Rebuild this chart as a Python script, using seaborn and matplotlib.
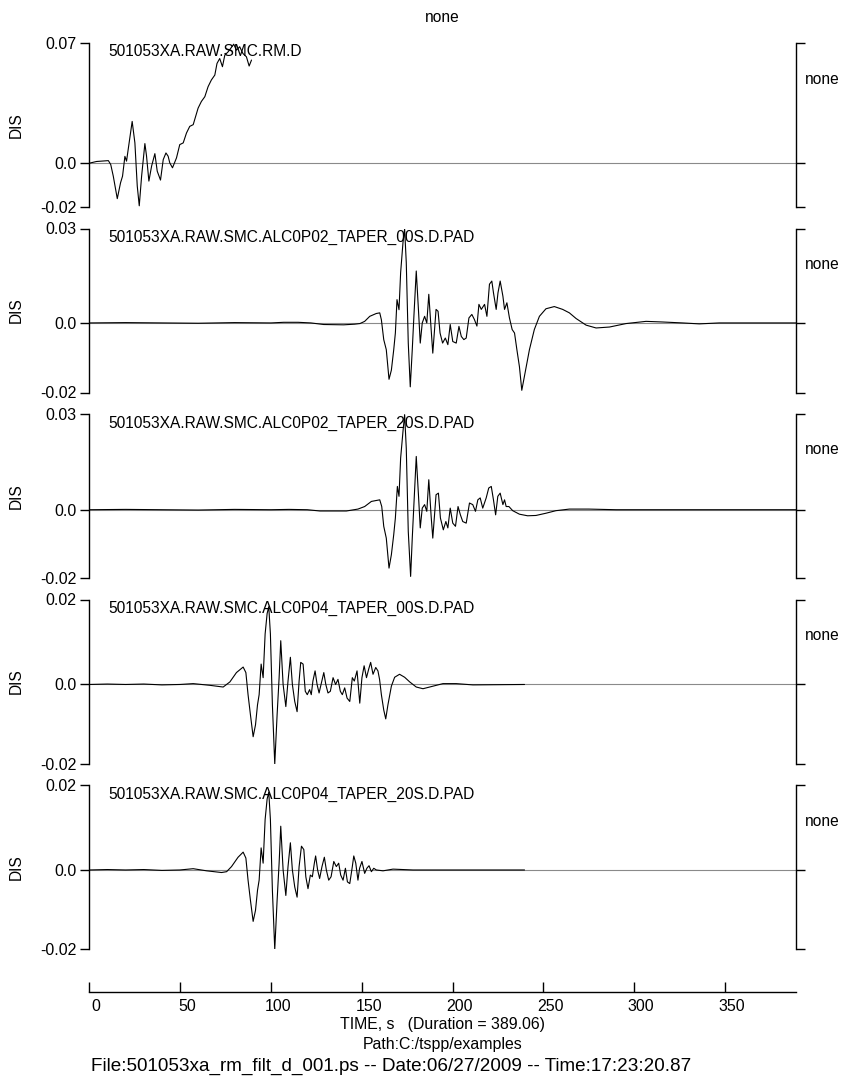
import numpy as np
import pandas as pd
import matplotlib
matplotlib.use("Agg")
import matplotlib.pyplot as plt
import seaborn as sns
from matplotlib.transforms import ScaledTranslation

# ---------------- data ----------------
DURATION = 389.06
names = ["501053XA.RAW.SMC.RM.D",
         "501053XA.RAW.SMC.ALC0P02_TAPER_00S.D.PAD",
         "501053XA.RAW.SMC.ALC0P02_TAPER_20S.D.PAD",
         "501053XA.RAW.SMC.ALC0P04_TAPER_00S.D.PAD",
         "501053XA.RAW.SMC.ALC0P04_TAPER_20S.D.PAD"]
y_lows = [-0.0257, -0.0221, -0.0214, -0.0186, -0.0186]
y_highs = [0.0705, 0.0300, 0.0300, 0.0200, 0.0200]
low_labels = ["-0.02", "-0.02", "-0.02", "-0.02", "-0.02"]
high_labels = ["0.07", "0.03", "0.03", "0.02", "0.02"]
x_ticks = [0, 50, 100, 150, 200, 250, 300, 350]

trace1 = [(0, 0.0), (4, 0.001), (10.5, 0.0015), (11.8, -0.0008), (13.2, -0.0076), (15.4, -0.0208),
          (17.2, -0.0115), (18.3, -0.0076), (19.6, 0.004), (20.5, 0.0012), (21.4, 0.008), (23.6, 0.0245),
          (25.1, 0.0119), (26.4, -0.0134), (27.5, -0.025), (28.8, -0.0076), (30.6, 0.0115), (31.5, 0.0043),
          (32.8, -0.0105), (34.3, -0.0017), (36.1, 0.0056), (37.4, -0.0047), (39.2, -0.0099), (40.7, 0.0021),
          (42.2, 0.006), (43.4, 0.0041), (44.3, 0.0002), (45.8, -0.0027), (48, 0.0031), (49.8, 0.0109),
          (51.7, 0.0119), (53.5, 0.0177), (55.3, 0.0216), (57.2, 0.0226), (59.9, 0.0323), (61.7, 0.0362),
          (63.6, 0.039), (65.4, 0.0449), (67.2, 0.0488), (69.1, 0.0517), (70.3, 0.0585), (71.8, 0.0614),
          (73.3, 0.0566), (74.6, 0.0634), (76.4, 0.0653), (78.3, 0.068), (79.5, 0.0698), (81, 0.0663),
          (82.8, 0.0683), (84.6, 0.0643), (86.5, 0.0624), (88, 0.057), (89.3, 0.0605)]

trace2 = [(0, 0), (20, 0.0001), (40, 0), (60, -0.0001), (80, 0.0001), (100, 0), (107, 0.0002), (115, 0.0002),
          (122, 0), (129, -0.0005), (140, -0.0006), (146, -0.0004), (149, -0.0002), (151.6, 0.0005),
          (154.4, 0.0021), (158, 0.003), (159.9, 0.0032), (160.8, 0.001), (162.1, -0.0053), (163.5, -0.0085),
          (165, -0.0179), (166.3, -0.015), (167.6, -0.0085), (168.5, -0.0032), (169.4, 0.0074), (170.5, 0.0042),
          (171.4, 0.016), (172.7, 0.0256), (173.6, 0.0299), (174.5, 0.0192), (175.6, -0.0064), (176.7, -0.0203),
          (177.8, -0.0085), (178.7, 0.0021), (180, 0.0165), (181.3, 0.0032), (182.2, -0.0064), (183.3, 0),
          (184.6, 0.0021), (185.8, 0), (186.9, 0.0091), (188.2, -0.0021), (189.1, -0.0096), (190.9, 0.0043),
          (192, 0.0037), (193.1, -0.0032), (194.5, -0.0064), (196, -0.0048), (197.4, -0.0069), (198.7, -0.0005),
          (200.1, -0.0059), (202, -0.0064), (203.5, -0.0011), (204.8, -0.0043), (206.2, -0.0053), (207.5, -0.0048),
          (209, 0.0016), (210.6, 0.0027), (212, 0.0011), (213.4, -0.001), (214.5, 0.0059), (215.8, 0.0043),
          (217.6, 0.0059), (218.9, 0.0021), (220.3, 0.0123), (221.6, 0.0133), (222.5, 0.0096), (224, 0.0043),
          (225, 0.0096), (226.2, 0.0133), (227.7, 0.0085), (228.6, 0.0043), (229.9, 0.0064), (231.3, 0.0016),
          (232.8, -0.0021), (234.1, -0.0032), (235.4, -0.0085), (236.8, -0.0139), (238.1, -0.0214),
          (239.5, -0.0171), (242.3, -0.0085), (245, -0.0021), (247.8, 0.0021), (251.4, 0.0045), (256, 0.0052),
          (260.6, 0.0043), (264.3, 0.0032), (268, 0.0014), (273.5, -0.0007), (279, -0.0016), (286.4, -0.0013),
          (295.5, -0.0002), (306.5, 0.0005), (315.6, 0.0003), (326.6, 0), (335.8, -0.0003), (346.8, 0),
          (389.06, 0)]

trace3 = [(0, 0), (20, 0.0001), (40, 0), (60, -0.0001), (80, 0.0001), (100, 0), (110, 0.0001), (120, 0),
          (127, -0.0004), (141.5, -0.0004), (147.9, 0.0002), (151.6, 0.001), (155.3, 0.0026), (159.9, 0.0031),
          (161, 0.001), (162.1, -0.0052), (163.5, -0.0089), (165, -0.0183), (166.3, -0.0141), (167.6, -0.0078),
          (168.5, -0.0026), (169.6, 0.0073), (170.5, 0.0042), (171.4, 0.0162), (172.7, 0.0246), (173.6, 0.0298),
          (174.5, 0.0193), (175.6, -0.0068), (176.9, -0.0209), (177.8, -0.0089), (178.7, 0.0016), (180, 0.0167),
          (181.3, 0.0037), (182.2, -0.0057), (183.3, 0.0005), (184.6, 0.0016), (185.8, -0.0005), (186.9, 0.0094),
          (188.2, -0.0021), (189.1, -0.0089), (190.9, 0.0047), (192.2, 0.0052), (193.3, -0.0026), (194.9, -0.0063),
          (196.3, -0.0037), (197.4, -0.0057), (198.7, 0.0005), (200.1, -0.0042), (201.6, -0.0052), (203, 0.001),
          (204.3, -0.0016), (205.6, -0.0037), (207.5, -0.0042), (209.3, 0.0021), (211.1, 0.0016), (212.6, -0.0005),
          (213.9, 0.0031), (215.2, 0.0037), (216.6, 0.0005), (218.5, 0.0037), (219.9, 0.0068), (221.3, 0.0073),
          (222.5, 0.0031), (223.7, -0.0016), (224.9, 0.0042), (226.2, 0.0052), (227.7, 0.0016), (228.6, 0.0031),
          (229.5, 0.001), (231, 0.001), (233.1, -0.0003), (236.8, -0.0014), (241.3, -0.0019), (245.9, -0.0018),
          (251.4, -0.0011), (256.9, -0.0003), (264.3, 0.0002), (275, 0.0002), (290, 0), (389.06, 0)]

trace4 = [(0, 0), (10, 0.0001), (20, 0), (30, 0.0001), (40, -0.0001), (49.9, 0), (57.2, 0.0002), (66.4, -0.0002),
          (73.7, -0.0006), (77.4, 0.0006), (81, 0.0028), (84.7, 0.0041), (86.2, 0.0028), (87.4, -0.0024),
          (88.7, -0.0071), (90.2, -0.0123), (91.5, -0.0095), (92.6, -0.0048), (93.5, -0.0024), (94.6, 0.0048),
          (95.7, 0.0016), (96.8, 0.0119), (97.9, 0.0167), (98.8, 0.0183), (99.7, 0.0119), (100.8, -0.0048),
          (102.1, -0.0187), (103.4, -0.0071), (104.5, 0.0016), (105.4, 0.0103), (106.7, 0), (108.2, -0.0052),
          (109.4, 0.0008), (110.7, 0.0064), (111.8, 0), (113.1, -0.004), (114.4, -0.0064), (115.5, 0.0008),
          (116.4, 0.0052), (117.7, 0.0048), (118.9, -0.0016), (120, -0.0024), (121.3, -0.0012), (122.2, -0.0024),
          (123.1, 0.0008), (124.3, 0.0032), (125.4, 0), (126.5, -0.002), (127.8, 0.0004), (129.1, 0.0028),
          (130.2, 0), (131.4, -0.002), (132.7, -0.0016), (134.2, 0.0016), (135.6, 0), (136.9, 0.0012),
          (138.2, -0.0016), (139.3, -0.0024), (140.6, -0.0008), (141.9, -0.0032), (143.4, -0.004), (144.8, 0.0016),
          (145.9, 0.0008), (147.4, 0.0032), (148.9, -0.0044), (150.1, 0.0016), (151.3, 0.0044), (152.6, 0.0016),
          (153.8, 0.0036), (154.9, 0.0052), (156.2, 0.0024), (157.7, 0.004), (158.9, 0.0032), (159.8, 0.0012),
          (160.8, -0.0024), (162.1, -0.006), (163.2, -0.0081), (164.4, -0.0048), (166.3, -0.0004), (168.1, 0.0017),
          (170.8, 0.0024), (173.6, 0.0017), (176.4, 0.0006), (180, -0.0006), (183.7, -0.001), (189.2, -0.0004),
          (194.7, 0.0002), (202, 0.0002), (211.2, -0.0001), (239.6, 0)]

trace5 = [(0, 0), (10, 0.0001), (20, 0), (30, 0.0001), (40, -0.0001), (49.9, 0), (57.2, 0.0003), (64.6, -0.0002),
          (72.8, -0.0006), (75.6, -0.0004), (78.3, 0.0008), (81.9, 0.003), (84.7, 0.0042), (86.2, 0.0028),
          (87.4, -0.0024), (88.7, -0.0071), (90.2, -0.0121), (91.5, -0.0095), (92.6, -0.0048), (93.5, -0.0024),
          (94.6, 0.0052), (95.7, 0.0016), (96.8, 0.0119), (97.9, 0.0167), (98.8, 0.0183), (99.7, 0.0119),
          (100.8, -0.0048), (102.1, -0.0187), (103.4, -0.0071), (104.5, 0.0016), (105.4, 0.0103), (106.7, 0),
          (108.2, -0.006), (109.4, 0.0008), (110.7, 0.0064), (111.8, 0), (113.1, -0.004), (114.4, -0.0064),
          (115.5, 0.0008), (116.8, 0.0056), (118.1, 0.0048), (119.2, -0.0016), (120.4, -0.0044), (121.7, -0.0012),
          (122.8, -0.0016), (123.9, 0.0016), (124.6, 0.0033), (125.7, 0), (126.8, -0.002), (128.1, 0.0008),
          (129.4, 0.003), (130.5, 0), (131.8, -0.0024), (133.1, -0.0016), (134.6, 0.002), (136, 0.0008),
          (137.3, 0.0016), (138.4, -0.0012), (139.7, -0.0024), (141, 0.0004), (142.1, -0.0028), (143.4, -0.0032),
          (144.8, 0.0008), (145.6, 0.0033), (146.7, 0.0016), (147.9, -0.0024), (148.8, 0.0004), (150.1, 0.002),
          (151.6, -0.0008), (152.8, 0.0004), (154, 0.001), (155.3, -0.0004), (156.6, 0.0004), (158, 0),
          (161.7, -0.0002), (167.2, 0.0002), (178.2, 0), (239.6, 0)]

traces = [trace1, trace2, trace3, trace4, trace5]

# ---------------- style & layout ----------------
sns.set_style("white")
plt.rcParams["font.family"] = ["Liberation Sans", "DejaVu Sans"]
plt.rcParams["text.color"] = "black"
plt.rcParams["axes.labelcolor"] = "black"
plt.rcParams["xtick.color"] = "black"
plt.rcParams["ytick.color"] = "black"

W, H = 841, 1082
fig = plt.figure(figsize=(W / 100, H / 100), dpi=100)
fig.patch.set_facecolor("white")

X_LEFT, X_RIGHT = 89.3, 796.0
PANEL_TOPS = [43, 228.5, 414, 599.5, 785]
PANEL_H = 164
FS = 11.2


def px_rect(l, t, w, h):
    return [l / W, 1 - (t + h) / H, w / W, h / H]


for i, trace in enumerate(traces):
    ax = fig.add_axes(px_rect(X_LEFT, PANEL_TOPS[i], X_RIGHT - X_LEFT, PANEL_H))
    ax.patch.set_alpha(0)
    df = pd.DataFrame(trace, columns=["t", "v"])
    ax.axhline(0, color="#8a8a8a", lw=0.8, zorder=1)
    sns.lineplot(data=df, x="t", y="v", ax=ax, color="black", lw=0.8,
                 estimator=None, sort=False, zorder=2)
    ax.set_xlim(0, DURATION)
    ax.set_ylim(y_lows[i], y_highs[i])
    for s in ["top", "bottom"]:
        ax.spines[s].set_visible(False)
    for s in ["left", "right"]:
        ax.spines[s].set_visible(True)
        ax.spines[s].set_color("black")
        ax.spines[s].set_linewidth(1.0)
    ax.set_xticks([])
    ax.set_yticks([y_lows[i], 0, y_highs[i]])
    ax.set_yticklabels([low_labels[i], "0.0", high_labels[i]])
    ax.tick_params(axis="y", which="both", direction="out", length=6.8, width=1.0,
                   pad=2.2, labelsize=11.5, left=True, right=True, labelright=False,
                   colors="black")
    ax.set_xlabel("")
    ax.set_ylabel("DIS", fontsize=FS)
    ax.yaxis.set_label_coords(-0.0925, 0.5)
    ax.text(0.0265, 1 - 9 / PANEL_H, names[i], transform=ax.transAxes,
            ha="left", va="center", fontsize=FS)
    ax.text(1.0127, 1 - 36 / PANEL_H, "none", transform=ax.transAxes,
            ha="left", va="center", fontsize=FS, clip_on=False)

# bottom time axis
axb = fig.add_axes(px_rect(X_LEFT, 982, X_RIGHT - X_LEFT, 10))
axb.patch.set_alpha(0)
axb.set_xlim(0, DURATION)
axb.set_ylim(0, 1)
for s in ["top", "left", "right"]:
    axb.spines[s].set_visible(False)
axb.spines["bottom"].set_visible(True)
axb.spines["bottom"].set_color("black")
axb.spines["bottom"].set_linewidth(1.0)
axb.set_yticks([])
axb.set_xticks(x_ticks)
axb.set_xticklabels([str(v) for v in x_ticks], fontsize=11.5)
axb.tick_params(axis="x", which="both", bottom=True, top=False, direction="in",
                length=7.2, width=1.0, pad=5, colors="black")
for lab in axb.get_xticklabels():
    lab.set_transform(lab.get_transform() + ScaledTranslation(7 / 100, 0, fig.dpi_scale_trans))

fig.text(442 / W, 1 - 17 / H, "none", ha="center", va="center", fontsize=FS)
fig.text(443 / W, 1 - 1024 / H, "TIME, s   (Duration = 389.06)", ha="center", va="center",
         fontsize=11.4)
fig.text(443 / W, 1 - 1045 / H, "Path:C:/tspp/examples", ha="center", va="center",
         fontsize=11.4)
fig.text(91 / W, 1 - 1066 / H,
         "File:501053xa_rm_filt_d_001.ps -- Date:06/27/2009 -- Time:17:23:20.87",
         ha="left", va="center", fontsize=13.6)

fig.savefig("out.png", dpi=100, facecolor="white")
